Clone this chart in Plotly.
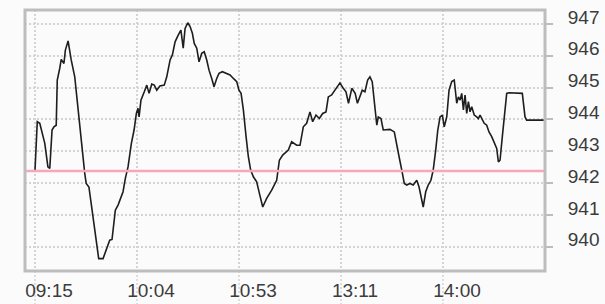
import plotly.graph_objects as go

# trading-minute offset since 09:15 (lunch break collapsed) and price
minutes = [0, 1.1, 2.3, 4.7, 6.2, 7.1, 8.2, 9.1, 10.2, 10.7, 11.9, 12.6, 13.9, 14.6, 15.9, 17.4, 19.1, 20.7,
           22.2, 23.9, 24.6, 25.9, 27.0, 28.7, 30.6, 32.7, 34.3, 35.9, 37.0, 38.6, 39.9, 42.3, 43.4, 44.7,
           46.3, 47.6, 48.7, 49.5, 50.0, 50.9, 52.5, 53.7, 54.8, 56.1, 57.3, 58.5, 60.0, 62.1, 63.3, 64.9,
           66.0, 67.3, 68.8, 70.1, 71.2, 72.1, 73.4, 74.5, 75.6, 76.5, 77.7, 78.8, 80.1, 81.3, 82.5, 83.6,
           84.9, 86.0, 87.3, 88.4, 90.0, 92.1, 93.7, 95.3, 96.9, 98.0, 99.0, 100.1, 100.9, 101.4, 102.5,
           103.6, 104.9, 106.5, 107.8, 109.4, 111.3, 113.7, 116.1, 117.4, 119.0, 120.6, 121.7, 123.3, 124.4,
           125.7, 127.3, 128.9, 130.5, 132.1, 133.4, 135.0, 136.6, 138.2, 139.8, 140.9, 142.5, 144.1, 145.2,
           146.5, 148.1, 149.4, 150.6, 152.2, 153.8, 154.9, 157.2, 158.5, 159.8, 160.9, 162.0, 163.0, 164.2,
           164.9, 166.2, 167.3, 169.0, 170.5, 172.6, 173.8, 174.9, 176.2, 177.4, 178.6, 180.1, 181.7, 183.4,
           184.5, 185.4, 186.5, 187.7, 188.9, 190.2, 191.3, 192.5, 193.5, 194.6, 195.7, 196.6, 197.8, 198.9,
           200.2, 201.4, 202.6, 203.4, 204.2, 205.0, 205.8, 206.6, 207.4, 208.2, 209.0, 209.8, 211.0, 212.2,
           213.0, 213.8, 214.9, 215.8, 217.0, 218.1, 219.4, 220.6, 221.8, 222.6, 223.4, 224.5, 225.8, 226.6,
           227.7, 234.1, 235.4, 236.2, 245.0]
prices = [942.40, 943.93, 943.88, 943.25, 942.51, 942.46, 943.67, 943.77, 943.82, 945.24, 945.61, 945.89,
          945.76, 946.18, 946.47, 945.87, 945.34, 944.30, 943.25, 942.31, 941.99, 941.88, 941.36, 940.52,
          939.63, 939.63, 939.95, 940.21, 940.23, 941.15, 941.31, 941.73, 942.15, 942.51, 943.25, 943.67,
          944.19, 944.35, 944.08, 944.61, 944.87, 945.08, 944.82, 945.11, 945.08, 944.92, 945.05, 945.08,
          945.34, 945.87, 946.03, 946.44, 946.65, 946.81, 946.24, 946.86, 947.04, 946.92, 946.71, 946.39,
          946.24, 945.81, 946.08, 946.13, 945.87, 945.55, 945.29, 945.03, 945.29, 945.45, 945.50, 945.45,
          945.40, 945.29, 945.19, 944.92, 944.82, 944.30, 943.67, 943.46, 942.83, 942.41, 942.20, 942.04,
          941.68, 941.25, 941.52, 941.78, 942.09, 942.72, 942.88, 942.98, 943.04, 943.30, 943.25, 943.19,
          943.19, 943.77, 943.88, 944.24, 943.93, 944.14, 944.03, 944.19, 944.24, 944.71, 944.77, 944.92,
          945.01, 945.15, 944.98, 944.87, 944.51, 944.98, 944.82, 944.51, 944.92, 944.87, 945.24, 945.34,
          945.19, 944.61, 943.82, 944.08, 944.03, 943.67, 943.67, 943.69, 943.61, 943.25, 942.83, 942.41,
          941.99, 941.94, 941.99, 941.94, 942.09, 941.88, 941.57, 941.25, 941.73, 941.94, 942.09, 942.41,
          943.04, 943.67, 944.08, 944.14, 943.77, 944.08, 944.92, 945.19, 945.24, 944.51, 944.71, 944.61,
          944.82, 944.30, 944.77, 944.19, 944.56, 944.24, 944.40, 944.14, 944.08, 944.03, 944.14, 943.98,
          943.88, 943.82, 943.61, 943.46, 943.25, 943.09, 942.67, 942.72, 943.46, 944.30, 944.82, 944.84,
          944.82, 944.08, 943.98, 943.98]
prev_close = 942.38

x_tick_vals = [0, 49, 98, 147, 196]
x_tick_text = ["09:15", "10:04", "10:53", "13:11", "14:00"]
y_tick_vals = [940, 941, 942, 943, 944, 945, 946, 947]

grid_color = "#d4d4d4"
frame_color = "#bdbdbd"
text_color = "#3c3c3c"
font_family = "Liberation Sans, Arial, sans-serif"

fig = go.Figure()
fig.add_trace(go.Scatter(x=minutes, y=prices, mode="lines",
                         line=dict(color="#1e1e1e", width=1.6), hoverinfo="skip"))

shapes = [
    dict(type="line", xref="paper", x0=0, x1=1, yref="y", y0=prev_close, y1=prev_close,
         line=dict(color="#f7a8b8", width=2.5), layer="above"),
]
for xv in x_tick_vals:
    shapes.append(dict(type="line", xref="x", x0=xv, x1=xv, yref="paper", y0=-0.13, y1=0,
                       line=dict(color=grid_color, width=1.5, dash="2px,2px"), layer="below"))
shapes.append(dict(type="rect", xref="paper", yref="paper", x0=0, x1=1, y0=0, y1=1,
                   line=dict(color=frame_color, width=3), layer="above"))

fig.update_layout(
    width=605, height=304,
    margin=dict(l=25, r=60, t=10, b=33, autoexpand=False),
    paper_bgcolor="#fbfbfb", plot_bgcolor="#fbfbfb",
    showlegend=False,
    shapes=shapes,
    font=dict(family=font_family, size=19, color=text_color),
    xaxis=dict(range=[-4.8, 245.0], tickvals=x_tick_vals, ticktext=x_tick_text,
               showgrid=True, gridcolor=grid_color, gridwidth=1.5, griddash="2px,2px",
               zeroline=False, showline=False, ticks="", ticklabelshift=14, automargin=False,
               ticklabelstandoff=6, tickfont=dict(size=19, color=text_color)),
    yaxis=dict(range=[939.24, 947.44], tickvals=y_tick_vals, side="right", automargin=False,
               showgrid=True, gridcolor=grid_color, gridwidth=1.5, griddash="2px,2px",
               zeroline=False, showline=False, ticks="outside", ticklen=7, tickwidth=2,
               tickcolor=frame_color, ticklabelshift=-7, ticklabelstandoff=11,
               tickfont=dict(size=19, color=text_color)),
)

fig.write_html("out.html", config={"displayModeBar": False},
               post_script="document.body.style.margin='0';document.body.style.background='#fbfbfb';")
